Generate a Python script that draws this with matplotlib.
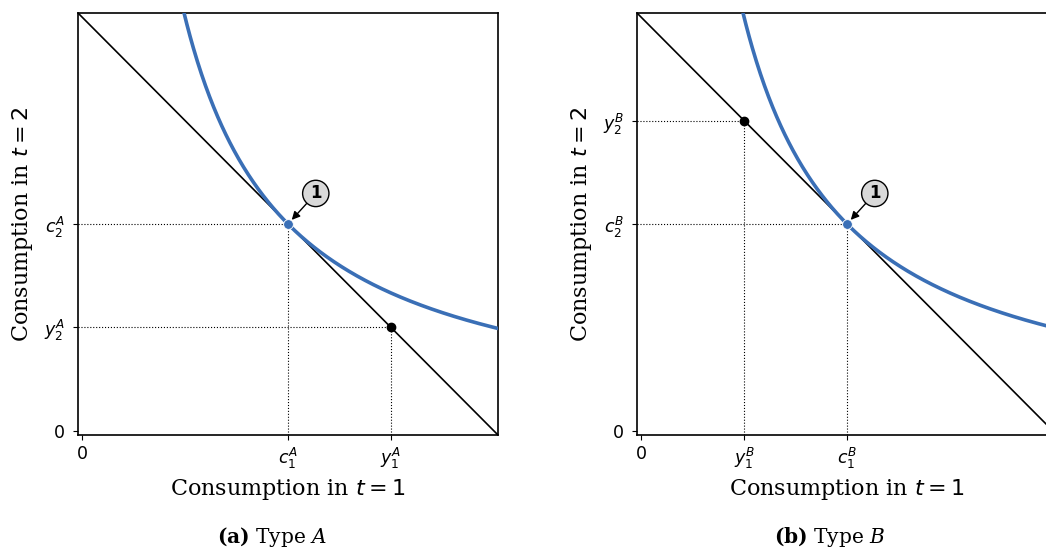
import numpy as np
import matplotlib.pyplot as plt

# endowments and optimal consumption for the two types
endow_A = (1.5, 0.5)
endow_B = (0.5, 1.5)
opt_A = (1.0, 1.0)
opt_B = (1.0, 1.0)
income = 2.0          # c1 + c2 = income
utility_level = 1.0   # c1 * c2 = utility_level

blue = '#3a6fb6'
plt.rcParams['font.family'] = ['DejaVu Serif']
plt.rcParams['mathtext.fontset'] = 'dejavusans'

fig = plt.figure(figsize=(10.46, 5.49), dpi=100)
W, H = 1046, 549
ax_a = fig.add_axes([78 / W, (H - 435) / H, 420 / W, 422 / H])
ax_b = fig.add_axes([637 / W, (H - 435) / H, 420 / W, 422 / H])


def panel(ax, endow, opt, sup):
    lo, hi = -0.02, 2.02
    xs = np.linspace(lo, hi, 200)
    ax.plot(xs, income - xs, color='black', lw=1.2, zorder=2)
    xc = np.linspace(0.45, hi, 400)
    ax.plot(xc, utility_level / xc, color=blue, lw=2.6, zorder=3)

    for pt in (endow, opt):
        ax.plot([pt[0], pt[0]], [lo, pt[1]], color='black', lw=0.8, ls=':', zorder=1)
        ax.plot([lo, pt[0]], [pt[1], pt[1]], color='black', lw=0.8, ls=':', zorder=1)
    ax.plot(*endow, 'o', color='black', ms=6, zorder=4)
    ax.plot(*opt, 'o', color=blue, mec='white', mew=0.6, ms=7, zorder=4)

    ax.annotate('1', xy=opt, xytext=(20, 22), textcoords='offset points',
                ha='center', va='center', fontsize=12, fontweight='bold',
                family='DejaVu Sans',
                bbox=dict(boxstyle='circle,pad=0.25', fc='#d9d9d9', ec='black', lw=1),
                arrowprops=dict(arrowstyle='-|>', color='black', lw=1,
                                shrinkA=0, shrinkB=4, mutation_scale=12),
                zorder=5)

    ax.set_xlim(lo, hi)
    ax.set_ylim(lo, hi)
    xt = sorted([0, endow[0], opt[0]])
    yt = sorted([0, endow[1], opt[1]])
    ax.set_xticks(xt)
    ax.set_yticks(yt)
    labx = {0: '0', endow[0]: '$y_1^{%s}$' % sup, opt[0]: '$c_1^{%s}$' % sup}
    laby = {0: '0', endow[1]: '$y_2^{%s}$' % sup, opt[1]: '$c_2^{%s}$' % sup}
    ax.set_xticklabels([labx[v] for v in xt], family='DejaVu Sans', fontsize=12.5)
    ax.set_yticklabels([laby[v] for v in yt], family='DejaVu Sans', fontsize=12.5)
    ax.tick_params(axis='y', pad=6)
    ax.tick_params(axis='x', pad=4)
    ax.set_xlabel('Consumption in $t=1$', fontsize=16, labelpad=5)
    ax.set_ylabel('Consumption in $t=2$', fontsize=16, labelpad=6)
    for s in ax.spines.values():
        s.set_linewidth(1.2)


panel(ax_a, endow_A, opt_A, 'A')
panel(ax_b, endow_B, opt_B, 'B')

for xc, tag, typ in [(272, 'a', 'A'), (830, 'b', 'B')]:
    fig.text(xc / W, 1 - 537 / H, r'$\mathbf{(%s)}$ Type $\mathit{%s}$' % (tag, typ),
             ha='center', va='center', fontsize=14.5, math_fontfamily='dejavuserif')

fig.savefig('out.png', dpi=100)
